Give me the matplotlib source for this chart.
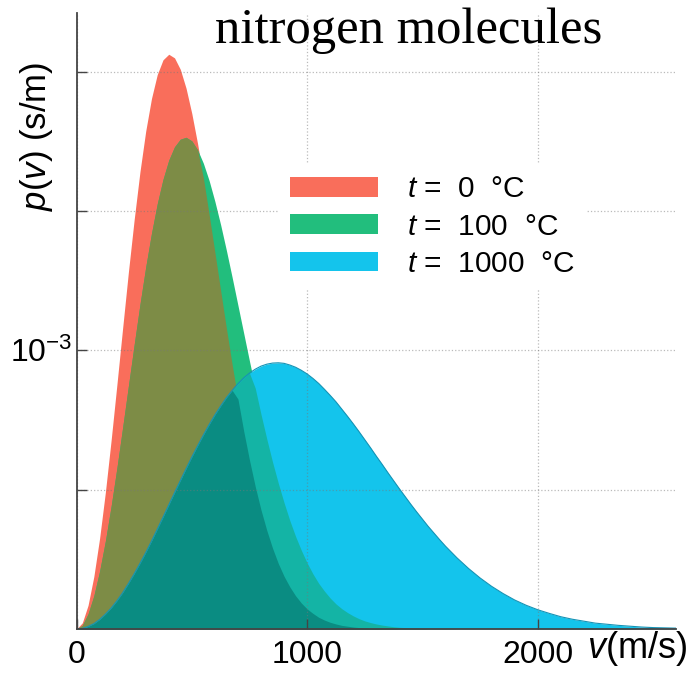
import numpy as np
import matplotlib.pyplot as plt
from matplotlib.patches import Patch

plt.rcParams['font.family'] = ['Liberation Sans', 'DejaVu Sans']
plt.rcParams['mathtext.fontset'] = 'custom'
plt.rcParams['mathtext.rm'] = 'Liberation Sans'
plt.rcParams['mathtext.it'] = 'Liberation Sans:italic'

# speed samples (m/s): every 25 m/s up to 1575, then every 50 m/s
speed = np.concatenate([np.arange(0, 1600, 25), np.arange(1600, 2650, 50)])

# p(v), in units of 1e-3 s/m
p_0C = [0.000, 0.022, 0.085, 0.188, 0.325, 0.490, 0.677, 0.876, 1.080, 1.281, 1.469,
        1.640, 1.786, 1.903, 1.989, 2.042, 2.062, 2.049, 2.008, 1.940, 1.849, 1.741,
        1.619, 1.487, 1.351, 1.214, 1.078, 0.948, 0.825, 0.710, 0.606, 0.511, 0.427,
        0.354, 0.290, 0.235, 0.189, 0.151, 0.119, 0.093, 0.072, 0.056, 0.042, 0.032,
        0.024, 0.018, 0.013, 0.010, 0.007, 0.005, 0.004, 0.002, 0.002, 0.001, 0.001,
        0.001, 0.000, 0.000, 0.000, 0.000, 0.000, 0.000, 0.000, 0.000, 0.000, 0.000,
        0.000, 0.000, 0.000, 0.000, 0.000, 0.000, 0.000, 0.000, 0.000, 0.000, 0.000,
        0.000, 0.000, 0.000, 0.000, 0.000, 0.000, 0.000, 0.000]
p_100C = [0.000, 0.013, 0.054, 0.119, 0.207, 0.315, 0.440, 0.577, 0.723, 0.872, 1.020,
          1.164, 1.298, 1.419, 1.525, 1.613, 1.682, 1.730, 1.757, 1.764, 1.751, 1.719,
          1.671, 1.609, 1.534, 1.450, 1.358, 1.261, 1.161, 1.061, 0.961, 0.864, 0.770,
          0.682, 0.599, 0.523, 0.453, 0.389, 0.332, 0.282, 0.237, 0.198, 0.164, 0.136,
          0.111, 0.090, 0.073, 0.059, 0.047, 0.037, 0.029, 0.023, 0.018, 0.014, 0.011,
          0.008, 0.006, 0.005, 0.003, 0.003, 0.002, 0.001, 0.001, 0.001, 0.001, 0.000,
          0.000, 0.000, 0.000, 0.000, 0.000, 0.000, 0.000, 0.000, 0.000, 0.000, 0.000,
          0.000, 0.000, 0.000, 0.000, 0.000, 0.000, 0.000, 0.000]
p_1000C = [0.000, 0.002, 0.009, 0.019, 0.034, 0.053, 0.075, 0.101, 0.130, 0.163, 0.198,
           0.235, 0.274, 0.315, 0.358, 0.401, 0.445, 0.489, 0.532, 0.575, 0.617, 0.657,
           0.696, 0.733, 0.768, 0.800, 0.830, 0.856, 0.880, 0.901, 0.918, 0.932, 0.943,
           0.950, 0.954, 0.955, 0.953, 0.947, 0.939, 0.928, 0.915, 0.899, 0.881, 0.860,
           0.838, 0.815, 0.789, 0.763, 0.736, 0.708, 0.679, 0.650, 0.620, 0.591, 0.561,
           0.532, 0.503, 0.475, 0.447, 0.420, 0.394, 0.368, 0.344, 0.320, 0.297, 0.255,
           0.217, 0.183, 0.153, 0.127, 0.104, 0.085, 0.069, 0.056, 0.044, 0.035, 0.028,
           0.021, 0.017, 0.013, 0.010, 0.007, 0.005, 0.004, 0.003]

labels = [r"$t$ =  0  °C", r"$t$ =  100  °C", r"$t$ =  1000  °C"]
colors = ['#F96E5B', '#22BE7D', '#14C4EC']
olive = '#7D8C46'      # 0 °C under 100 °C
teal = '#14B4A5'       # 100 °C under 1000 °C
dark_teal = '#0A8C82'  # all three

p_0C = np.array(p_0C)
p_100C = np.array(p_100C)
p_1000C = np.array(p_1000C)

fig = plt.figure(figsize=(6.97, 6.73), dpi=100)
ax = fig.add_axes([0.1098, 0.0654, 0.8602, 0.9153])

ax.fill_between(speed, 0, p_0C, color=colors[0], lw=0, zorder=1)
ax.fill_between(speed, 0, p_100C, color=colors[1], lw=0, zorder=1)
ax.fill_between(speed, 0, np.minimum(p_0C, p_100C), color=olive, lw=0, zorder=1)
ax.fill_between(speed, 0, p_1000C, color=colors[2], lw=0, zorder=1)
ax.fill_between(speed, 0, np.minimum(p_100C, p_1000C), color=teal, lw=0, zorder=1)
ax.fill_between(speed, 0, np.minimum(np.minimum(p_0C, p_100C), p_1000C),
                color=dark_teal, lw=0, zorder=1)
ax.plot(speed, p_1000C, color='#1593B5', lw=0.8, zorder=2)

ax.set_xlim(0, 2600)
ax.set_ylim(0, 2.21)
ax.set_xticks([0, 1000, 2000])
ax.set_xticklabels(['0', '1000', '2000'])
ax.set_yticks([0.5, 1.0, 1.5, 2.0])
ax.set_yticklabels(['', r'$\mathregular{10^{-3}}$', '', ''])
ax.tick_params(direction='in', length=7, width=1, color='#444444', labelsize=23)
ax.tick_params(axis='x', pad=8)
ax.tick_params(axis='y', pad=3)
ax.grid(True, linestyle=':', color='#777777', alpha=0.5, lw=0.9, zorder=3)

for side in ['top', 'right']:
    ax.spines[side].set_visible(False)
for side in ['left', 'bottom']:
    ax.spines[side].set_color('#444444')
    ax.spines[side].set_linewidth(1.3)
    ax.spines[side].set_zorder(4)

handles = [Patch(facecolor=c, edgecolor='none') for c in colors]
leg = ax.legend(handles, labels, loc='upper left', bbox_to_anchor=(0.311, 0.780),
                fontsize=21.5, handlelength=2.95, handleheight=0.63, handletextpad=0.98,
                labelspacing=0.31, borderpad=0.4, frameon=True, fancybox=False,
                facecolor='white', edgecolor='none', framealpha=1.0)
leg.set_zorder(5)

fig.text(0.587, 0.936, "nitrogen molecules", family='Liberation Serif',
         fontsize=36.5, ha='center', va='baseline')
fig.text(0.053, 0.797, r"$p$($v$) (s/m)", fontsize=25, rotation=90,
         ha='center', va='center')
fig.text(0.842, 0.037, r"$v$(m/s)", fontsize=26, ha='left', va='center')

fig.savefig("out.png")
